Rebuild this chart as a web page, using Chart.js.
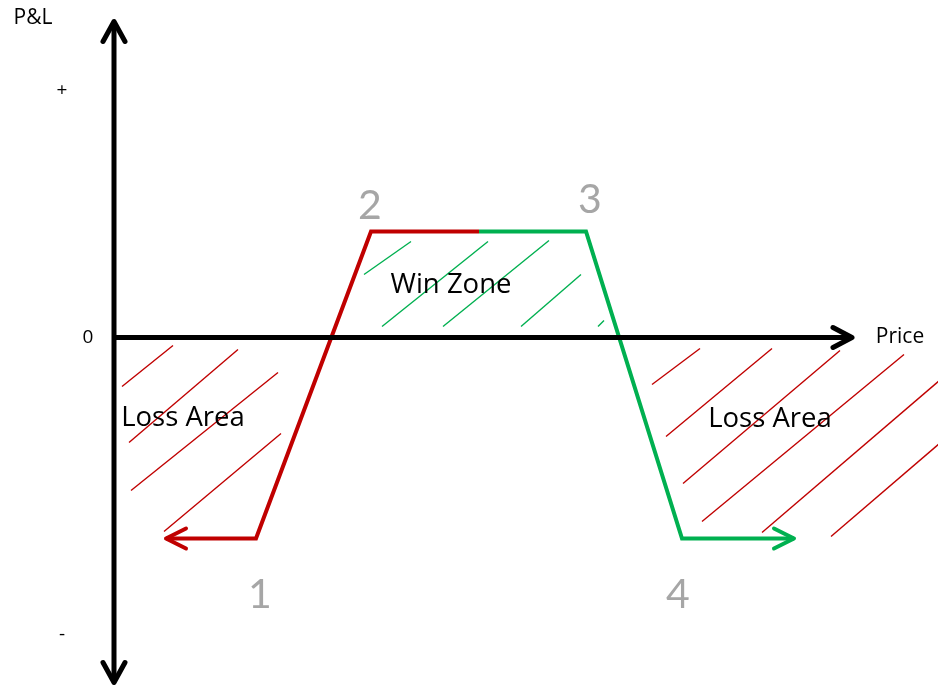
<!DOCTYPE html>
<html>
<head>
<meta charset="utf-8">
<title>P&amp;L</title>
<script src="https://cdn.jsdelivr.net/npm/chart.js@4.4.1/dist/chart.umd.min.js"></script>
<style>
  html, body { margin: 0; padding: 0; background: #fff; }
  #wrap { width: 938px; height: 686px; }
</style>
</head>
<body>
<div id="wrap"><canvas id="payoff"></canvas></div>
<script>
// payoff path: price / P&L at each corner (arrow tip, 1, 2, colour change, 3, 4, arrow tip)
const pathPrices = [52, 142, 257, 365, 472, 568, 680];
const pathPnl    = [-201, -201, 106, 106, 106, -201, -201];
const splitIndex = 3; // red up to here, green after

// y axis tick marks
const tickValues = [247, 0, -297];
const tickLabels = ['+', '0', '-'];

// corner numbers
const cornerLabels = ['1', '2', '3', '4'];
const cornerPrices = [146, 256, 476, 564];
const cornerPnl    = [-270, 119, 125, -270];

// hatch strokes [price1, pnl1, price2, pnl2]
const lossHatch = [
  [8, -49, 59, -8],
  [15, -105, 124, -12],
  [17, -153, 164, -35],
  [50, -194, 167, -96],
  [538, -47, 586, -11],
  [552, -99, 658, -11],
  [569, -146, 726, -13],
  [588, -184, 790, -17],
  [648, -195, 836, -34],
  [717, -199, 836, -97]
];
const winHatch = [
  [250, 63, 297, 96],
  [268, 11, 374, 96],
  [329, 11, 435, 97],
  [407, 11, 467, 63],
  [484, 11, 490, 17]
];

// area captions
const zoneLabels = ['Win Zone', 'Loss Area', 'Loss Area'];
const zonePrices = [337, 69, 656];
const zonePnl    = [45, -88, -89];

const RED = '#c00000';
const GREEN = '#00b050';
const GREY = '#a6a6a6';
const TEXT_FONT = '"Open Sans", Lato, sans-serif';
const DIGIT_FONT = 'Lato, "Open Sans", sans-serif';

const pts = pathPrices.map((p, i) => ({ x: p, y: pathPnl[i] }));
const redLeg = pts.slice(0, splitIndex + 1);
const greenLeg = pts.slice(splitIndex);

function hatchSet(seg, color) {
  return {
    data: [{ x: seg[0], y: seg[1] }, { x: seg[2], y: seg[3] }],
    borderColor: color,
    borderWidth: 1.4,
    pointRadius: 0,
    showLine: true
  };
}

const datasets = [
  ...lossHatch.map(s => hatchSet(s, RED)),
  ...winHatch.map(s => hatchSet(s, GREEN)),
  { data: redLeg, borderColor: RED, borderWidth: 4, pointRadius: 0, showLine: true, borderJoinStyle: 'miter' },
  { data: greenLeg, borderColor: GREEN, borderWidth: 4, pointRadius: 0, showLine: true, borderJoinStyle: 'miter' }
];

function chevron(ctx, tipX, tipY, dirX, dirY, len, half) {
  const px = -dirY, py = dirX;
  ctx.beginPath();
  ctx.moveTo(tipX - dirX * len + px * half, tipY - dirY * len + py * half);
  ctx.lineTo(tipX, tipY);
  ctx.lineTo(tipX - dirX * len - px * half, tipY - dirY * len - py * half);
  ctx.stroke();
}

const decorations = {
  id: 'decorations',
  afterDatasetsDraw(chart) {
    const { ctx, scales: { x, y } } = chart;
    const ox = x.getPixelForValue(0);
    const oy = y.getPixelForValue(0);

    // payoff arrowheads
    ctx.save();
    ctx.lineCap = 'round';
    ctx.lineJoin = 'round';
    ctx.lineWidth = 4;
    ctx.strokeStyle = RED;
    chevron(ctx, x.getPixelForValue(redLeg[0].x), y.getPixelForValue(redLeg[0].y), -1, 0, 20, 10);
    ctx.strokeStyle = GREEN;
    const last = greenLeg[greenLeg.length - 1];
    chevron(ctx, x.getPixelForValue(last.x), y.getPixelForValue(last.y), 1, 0, 20, 10);

    // axes
    const yTop = y.getPixelForValue(316);
    const yBot = y.getPixelForValue(-345);
    const xEnd = x.getPixelForValue(738);
    ctx.strokeStyle = '#000';
    ctx.lineWidth = 5;
    ctx.lineCap = 'butt';
    ctx.beginPath();
    ctx.moveTo(ox, yTop + 2);
    ctx.lineTo(ox, yBot - 2);
    ctx.moveTo(ox - 2.5, oy);
    ctx.lineTo(xEnd - 2, oy);
    ctx.stroke();
    ctx.lineCap = 'round';
    chevron(ctx, ox, yTop, 0, -1, 20, 11);
    chevron(ctx, ox, yBot, 0, 1, 20, 11);
    chevron(ctx, xEnd, oy, 1, 0, 19, 10);
    ctx.restore();
  },
  afterDraw(chart) {
    const { ctx, scales: { x, y } } = chart;
    const ox = x.getPixelForValue(0);
    ctx.save();
    ctx.textAlign = 'center';

    // axis titles
    ctx.fillStyle = '#000';
    ctx.textBaseline = 'alphabetic';
    ctx.font = '21px ' + TEXT_FONT;
    ctx.fillText('P&L', 33, 24);
    ctx.fillText('Price', 900, 343);

    // y ticks
    ctx.textBaseline = 'middle';
    ctx.font = '19px ' + TEXT_FONT;
    tickValues.forEach((v, i) => {
      const off = tickLabels[i] === '0' ? 26 : 52;
      ctx.fillText(tickLabels[i], ox - off, y.getPixelForValue(v));
    });

    // zone captions
    ctx.textBaseline = 'alphabetic';
    ctx.font = '27.5px ' + TEXT_FONT;
    zoneLabels.forEach((t, i) => {
      ctx.fillText(t, x.getPixelForValue(zonePrices[i]), y.getPixelForValue(zonePnl[i]));
    });

    // corner numbers
    ctx.fillStyle = GREY;
    ctx.font = '41px ' + DIGIT_FONT;
    cornerLabels.forEach((t, i) => {
      ctx.fillText(t, x.getPixelForValue(cornerPrices[i]), y.getPixelForValue(cornerPnl[i]));
    });
    ctx.restore();
  }
};

new Chart(document.getElementById('payoff'), {
  type: 'scatter',
  data: { datasets },
  options: {
    responsive: true,
    maintainAspectRatio: false,
    animation: false,
    layout: { padding: 0 },
    plugins: { legend: { display: false }, tooltip: { enabled: false } },
    scales: {
      x: { type: 'linear', min: -114, max: 824, display: false },
      y: { type: 'linear', min: -348.5, max: 337.5, display: false }
    }
  },
  plugins: [decorations]
});
</script>
</body>
</html>
